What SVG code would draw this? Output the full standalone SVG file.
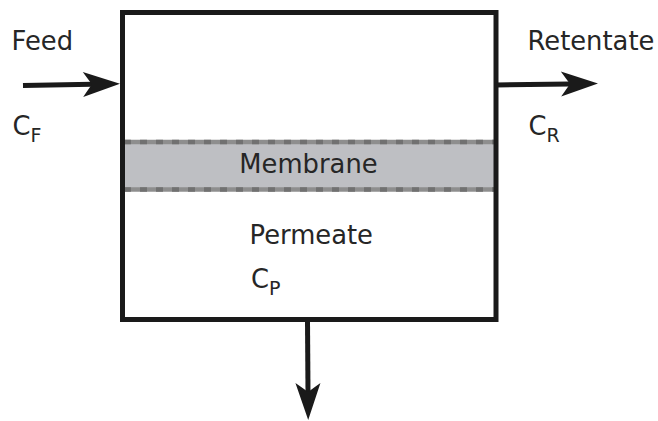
<svg xmlns="http://www.w3.org/2000/svg" width="658" height="421" viewBox="0 0 658 421">
<style>
text{font-family:"DejaVu Sans",sans-serif;font-size:25.8px;fill:#262626}
.sub{font-size:19px}
.flow{stroke:#1a1a1a;stroke-width:5;fill:none}
.mb{stroke:#8e8e8e;stroke-width:4.5}
.mbd{stroke:#717171;stroke-width:4.5;stroke-dasharray:7 9}
</style>
<defs>
<marker id="ah" markerUnits="userSpaceOnUse" markerWidth="40" markerHeight="30" viewBox="-10 -13 40 26" refX="0" refY="0" orient="auto" overflow="visible">
<path d="M28 0 L-9 -12.5 Q-3 -4 0 0 Q-3 4 -9 12.5 Z" fill="#1a1a1a"/>
</marker>
</defs>
<g id="membrane">
<rect x="124" y="142" width="371" height="47.5" fill="#bebfc3"/>
<line class="mb" x1="124" y1="142" x2="495" y2="142"/>
<line class="mbd" x1="124" y1="142" x2="495" y2="142"/>
<line class="mb" x1="124" y1="189.5" x2="495" y2="189.5"/>
<line class="mbd" x1="124" y1="189.5" x2="495" y2="189.5"/>
<text x="308.5" y="173" text-anchor="middle">Membrane</text>
</g>
<g id="module">
<rect x="122.5" y="12.5" width="373.5" height="307" fill="none" stroke="#1a1a1a" stroke-width="5"/>
</g>
<g id="connectors">
<line class="flow" x1="23" y1="85.5" x2="92" y2="84.3" marker-end="url(#ah)"/>
<line class="flow" x1="496" y1="85" x2="570" y2="84" marker-end="url(#ah)"/>
<line class="flow" x1="307.5" y1="322" x2="308" y2="392" marker-end="url(#ah)"/>
</g>
<g id="feed">
<text x="11.5" y="50">Feed</text>
<text x="12.5" y="134.5">C<tspan class="sub" dy="7">F</tspan></text>
</g>
<g id="retentate">
<text x="527.5" y="50">Retentate</text>
<text x="528.5" y="134.5">C<tspan class="sub" dy="7">R</tspan></text>
</g>
<g id="permeate">
<text x="249.5" y="244">Permeate</text>
<text x="251" y="288">C<tspan class="sub" dy="7">P</tspan></text>
</g>
</svg>
